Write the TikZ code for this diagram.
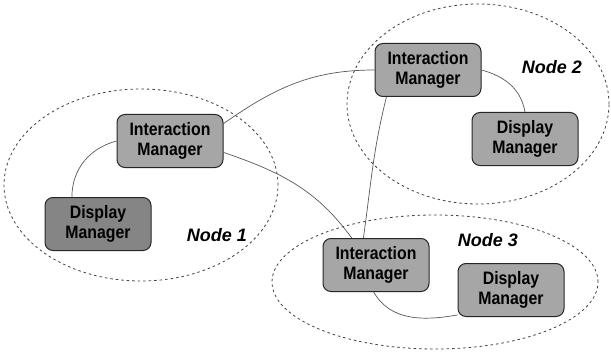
\documentclass[tikz,border=0pt]{standalone}
\usepackage{fontspec}
\setmainfont{Liberation Sans}
\newfontfamily\boxfont{Liberation Sans}[FakeStretch=0.88]
\begin{document}
\begin{tikzpicture}[x=1pt,y=-1pt,
  mgr/.style={draw=black!85,line width=1pt,rounded corners=8pt,fill=black!35,
    minimum width=106pt,minimum height=53pt,inner sep=0pt,align=center,
    font=\boxfont\bfseries\fontsize{18}{20}\selectfont},
  mgrdark/.style={mgr,fill=black!48},
  region/.style={draw=black!75,dash pattern=on 2.5pt off 3pt,line width=0.8pt},
  link/.style={draw=black!65,line width=0.7pt},
  lab/.style={font=\bfseries\itshape\fontsize{18}{20}\selectfont}]
\useasboundingbox (0,0) rectangle (611,353);
\fill[white] (0,0) rectangle (611,353);
% regions
\draw[region] (141,185) ellipse [x radius=137pt,y radius=96pt];
\draw[region] (478,104) ellipse [x radius=131pt,y radius=100pt];
\draw[region] (435,282) ellipse [x radius=163pt,y radius=67pt];
% managers
\node[mgr] (im1) at (170,141) {Interaction\\Manager};
\node[mgrdark] (dm1) at (98,224) {Display\\Manager};
\node[mgr] (im2) at (428,70) {Interaction\\Manager};
\node[mgr] (dm2) at (525,139) {Display\\Manager};
\node[mgr] (im3) at (376,265) {Interaction\\Manager};
\node[mgr] (dm3) at (511,290) {Display\\Manager};
% labels
\node[lab] (n1) at (217,235) {Node 1};
\node[lab] (n2) at (552,67) {Node 2};
\node[lab] (n3) at (488,240) {Node 3};
% connectors
\draw[link] (im1.west) to[out=195,in=90] (dm1.134);
\draw[link] (im1.-12) to[out=-19,in=126] (im3.132);
\draw[link] (im1.18) to[out=35,in=180] (im2.west);
\draw[link] (im2.213) to[out=-104,in=82] (im3.115);
\draw[link] (im2.east) to[out=-15,in=100] (dm2.north);
\draw[link] (im3.265) to[out=-60,in=190] (dm3.205);
\end{tikzpicture}
\end{document}
